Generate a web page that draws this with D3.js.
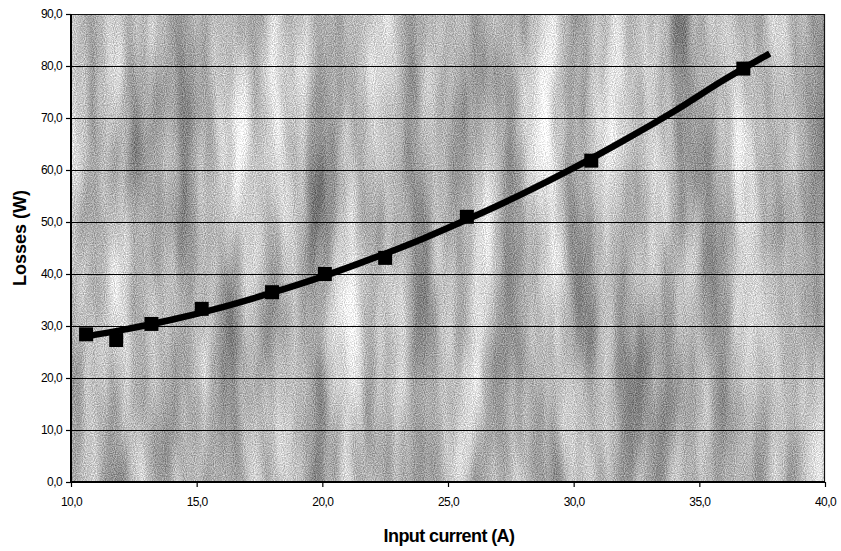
<!DOCTYPE html>
<html><head><meta charset="utf-8">
<script src="https://cdn.jsdelivr.net/npm/d3@7"></script>
<style>body{margin:0;background:#fff}svg{display:block}text{font-family:"Liberation Sans",Arial,sans-serif}</style>
</head><body><svg id="c" width="841" height="551"></svg>
<script>
// measured points
const currentA = [10.6, 11.8, 13.2, 15.2, 18.0, 20.1, 22.5, 25.75, 30.7, 36.75];
const lossesW  = [28.4, 27.3, 30.4, 33.3, 36.5, 40.0, 43.1, 51.0, 61.8, 79.5];
// trendline
const trendX = [10.6, 12, 14, 16, 18, 20, 22, 24, 26, 28, 30, 32, 34, 36, 37.8];
const trendY = [28.0, 29.2, 31.2, 33.6, 36.4, 39.5, 43.0, 46.8, 51.0, 55.5, 60.4, 65.7, 71.3, 77.4, 82.4];
const xTicks = [10, 15, 20, 25, 30, 35, 40];
const yTicks = [0, 10, 20, 30, 40, 50, 60, 70, 80, 90];
const xTitle = "Input current (A)";
const yTitle = "Losses (W)";

const svg = d3.select("#c");
const L = 71, R = 825, T = 14, B = 482;
const x = d3.scaleLinear().domain([10, 40]).range([L, R]);
const y = d3.scaleLinear().domain([0, 90]).range([B, T]);
const fmt = d => d3.format(".1f")(d).replace(".", ",");

const defs = svg.append("defs");
const f = defs.append("filter").attr("id", "tex").attr("x", 0).attr("y", 0).attr("width", 1).attr("height", 1)
  .attr("filterUnits", "objectBoundingBox").attr("color-interpolation-filters", "sRGB");
f.append("feTurbulence").attr("type", "fractalNoise").attr("baseFrequency", "0.03 0.004")
  .attr("numOctaves", 3).attr("seed", 7).attr("result", "t1");
f.append("feColorMatrix").attr("in", "t1").attr("type", "matrix")
  .attr("values", "0.75 0 0 0 0.33  0.75 0 0 0 0.33  0.75 0 0 0 0.33  0 0 0 0 1").attr("result", "g1");
f.append("feTurbulence").attr("type", "fractalNoise").attr("baseFrequency", "0.9")
  .attr("numOctaves", 1).attr("seed", 3).attr("result", "t2");
f.append("feColorMatrix").attr("in", "t2").attr("type", "matrix")
  .attr("values", "1 0 0 0 0  1 0 0 0 0  1 0 0 0 0  0 0 0 0 1").attr("result", "g2");
f.append("feComposite").attr("in", "g1").attr("in2", "g2").attr("operator", "arithmetic")
  .attr("k1", 0).attr("k2", 1).attr("k3", 0.6).attr("k4", -0.3);

// plot background
svg.append("rect").attr("x", L).attr("y", T).attr("width", R - L).attr("height", B - T)
  .attr("fill", "#b4b4b4").attr("filter", "url(#tex)");

// gridlines
svg.append("g").selectAll("line").data(yTicks.filter(d => d > 0 && d < 90)).join("line")
  .attr("x1", L).attr("x2", R).attr("y1", d => Math.round(y(d)) + 0.5).attr("y2", d => Math.round(y(d)) + 0.5)
  .attr("stroke", "#000").attr("stroke-width", 1.2);

// border top/right
svg.append("path").attr("d", `M${L},${T + 0.5}H${R - 0.5}V${B}`).attr("fill", "none")
  .attr("stroke", "#111").attr("stroke-width", 1.2);

// axes
const xAxis = d3.axisBottom(x).tickValues(xTicks).tickFormat(fmt).tickSize(5).tickPadding(10);
const gx = svg.append("g").attr("transform", `translate(0,${B})`).call(xAxis);
const yAxis = d3.axisLeft(y).tickValues(yTicks).tickFormat(fmt).tickSize(5).tickPadding(4);
const gy = svg.append("g").attr("transform", `translate(${L},0)`).call(yAxis);
[gx, gy].forEach(g => {
  g.select(".domain").attr("stroke", "#000").attr("stroke-width", 2);
  g.selectAll(".tick line").attr("stroke", "#000").attr("stroke-width", 1.2);
  g.selectAll(".tick text").attr("fill", "#000").style("font-size", "12px")
    .style("letter-spacing", "-0.6px").style("font-family", '"Liberation Sans",Arial,sans-serif');
});
gy.select(".domain").attr("d", `M0,${T}V${B}`);
gx.select(".domain").attr("d", `M${L},0H${R}`);

// trendline
const pts = trendX.map((v, i) => [v, trendY[i]]);
svg.append("path").datum(pts)
  .attr("d", d3.line().x(d => x(d[0])).y(d => y(d[1])).curve(d3.curveMonotoneX))
  .attr("fill", "none").attr("stroke", "#000").attr("stroke-width", 6.5).attr("stroke-linecap", "butt");

// markers
const ms = 14;
svg.append("g").selectAll("rect").data(currentA.map((v, i) => [v, lossesW[i]])).join("rect")
  .attr("x", d => x(d[0]) - ms / 2).attr("y", d => y(d[1]) - ms / 2)
  .attr("width", ms).attr("height", ms).attr("fill", "#000");

// titles
svg.append("text").attr("x", 449).attr("y", 542).attr("text-anchor", "middle")
  .style("font-size", "18px").style("font-weight", "bold").style("letter-spacing", "-0.6px").text(xTitle);
svg.append("text").attr("transform", "translate(26,238) rotate(-90)").attr("text-anchor", "middle")
  .style("font-size", "18px").style("font-weight", "bold").text(yTitle);
</script></body></html>
